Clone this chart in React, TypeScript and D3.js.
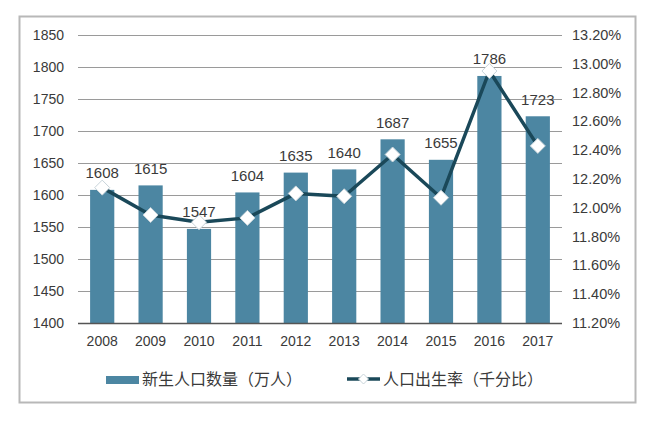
import React from "react";
import * as d3 from "d3";

const years = ["2008", "2009", "2010", "2011", "2012", "2013", "2014", "2015", "2016", "2017"];
const births = [1608, 1615, 1547, 1604, 1635, 1640, 1687, 1655, 1786, 1723];
const rates = [12.14, 11.95, 11.9, 11.93, 12.1, 12.08, 12.37, 12.07, 12.95, 12.43];
const leftTicks = [1400, 1450, 1500, 1550, 1600, 1650, 1700, 1750, 1800, 1850];
const rightTicks = [11.2, 11.4, 11.6, 11.8, 12.0, 12.2, 12.4, 12.6, 12.8, 13.0, 13.2];
const legendBar = "新生人口数量（万人）";
const legendLine = "人口出生率（千分比）";

const W = 660, H = 428;
const plotL = 78, plotR = 562, plotT = 35, plotB = 323;
const BAR = "#4c86a2";
const LINE = "#1a4859";
const TXT = "#3a3a3a";
const NUMFONT = "'Liberation Sans', Arial, sans-serif";
const CJK = "'Noto Sans CJK SC', sans-serif";

export default function App() {
  const x = d3.scaleBand<string>().domain(years).range([plotL, plotR]).paddingInner(0.5).paddingOuter(0.25);
  const yL = d3.scaleLinear().domain([1400, 1850]).range([plotB, plotT]);
  const yR = d3.scaleLinear().domain([11.2, 13.2]).range([plotB, plotT]);
  const cx = (y: string) => (x(y) as number) + x.bandwidth() / 2;
  const line = d3.line<number>().x((_, i) => cx(years[i])).y((d) => yR(d));
  const diamond = (px: number, py: number, r: number) =>
    `M${px},${py - r}L${px + r},${py}L${px},${py + r}L${px - r},${py}Z`;

  return (
    <svg width={W} height={H} style={{ position: "absolute", left: 0, top: 0, background: "#fff" }}>
      <rect x={0} y={0} width={W} height={H} fill="#fff" />
      <rect x={19.5} y={16.5} width={616} height={386} fill="#fff" stroke="#b8b8b8" strokeWidth={2} />
      {leftTicks.map((t) => (
        <g key={t}>
          {t !== 1400 && (
            <line x1={plotL} x2={plotR} y1={Math.round(yL(t)) + 0.5} y2={Math.round(yL(t)) + 0.5} stroke="#9a9a9a" strokeWidth={1} />
          )}
          <text x={64} y={yL(t)} dy="0.35em" textAnchor="end" fontFamily={NUMFONT} fontSize={14} fill={TXT}>
            {t}
          </text>
        </g>
      ))}
      {rightTicks.map((t) => (
        <text key={t} x={572} y={yR(t)} dy="0.35em" textAnchor="start" fontFamily={NUMFONT} fontSize={14.5} fill={TXT}>
          {t.toFixed(2)}%
        </text>
      ))}
      {births.map((v, i) => (
        <rect key={years[i]} x={x(years[i])} width={x.bandwidth()} y={yL(v)} height={plotB - yL(v)} fill={BAR} />
      ))}
      <line x1={plotL} x2={plotR} y1={plotB + 0.5} y2={plotB + 0.5} stroke="#555" strokeWidth={1.5} />
      {years.map((yr) => (
        <text key={yr} x={cx(yr)} y={341} dy="0.35em" textAnchor="middle" fontFamily={NUMFONT} fontSize={14} fill={TXT}>
          {yr}
        </text>
      ))}
      <path d={line(rates) || ""} fill="none" stroke={LINE} strokeWidth={3.5} strokeLinejoin="round" />
      {rates.map((r, i) => (
        <path key={i} d={diamond(cx(years[i]), yR(r), 7.5)} fill="#fff" stroke="#c8d4da" strokeWidth={1} />
      ))}
      {births.map((v, i) => (
        <text key={i} x={cx(years[i])} y={yL(v) - 17} dy="0.35em" textAnchor="middle" fontFamily={NUMFONT} fontSize={15} fill={TXT}>
          {v}
        </text>
      ))}
      <rect x={106} y={376} width={33} height={8} fill={BAR} />
      <text x={142} y={379} dy="0.35em" fontFamily={CJK} fontSize={16} fill={TXT}>
        {legendBar}
      </text>
      <line x1={347} x2={380} y1={379} y2={379} stroke={LINE} strokeWidth={3.5} />
      <path d={diamond(363.5, 379, 5)} fill="#fff" stroke="#c8d4da" strokeWidth={1} />
      <text x={383} y={379} dy="0.35em" fontFamily={CJK} fontSize={16} fill={TXT}>
        {legendLine}
      </text>
    </svg>
  );
}
